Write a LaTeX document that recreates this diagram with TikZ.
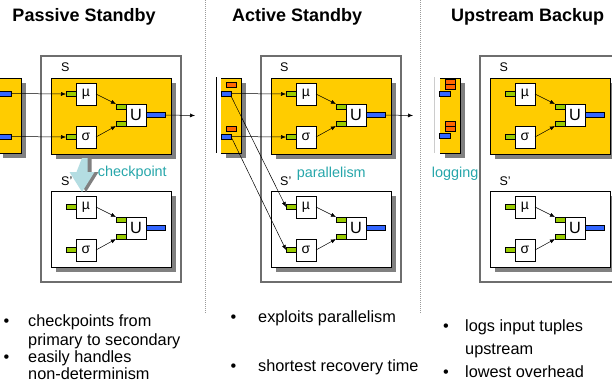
\documentclass[tikz,border=0pt]{standalone}
\usepackage{fontspec}
\setmainfont{Liberation Sans}
\usetikzlibrary{arrows.meta,positioning,calc,shadows}
\definecolor{opyellow}{RGB}{255,204,0}
\definecolor{portgreen}{RGB}{153,204,0}
\definecolor{portblue}{RGB}{51,102,255}
\definecolor{logorange}{RGB}{255,102,0}
\definecolor{noteteal}{RGB}{38,166,170}
\definecolor{ckblue}{RGB}{180,221,226}
\definecolor{shadowgray}{RGB}{128,128,128}
\definecolor{framegray}{RGB}{110,110,110}
\newcommand{\titlefont}{\fontsize{18}{21}\bfseries\selectfont}
\newcommand{\itemfont}{\fontsize{16.3}{19}\selectfont}
\tikzset{>={Latex[length=5pt,width=4pt]},
  groupbox/.style={draw, line width=0.8pt, inner sep=0, outer sep=0, minimum width=120pt, minimum height=76pt,
    drop shadow={shadow xshift=5pt, shadow yshift=-5pt, fill=shadowgray, opacity=1}},
  opbox/.style={draw, fill=white, line width=0.6pt, inner sep=0, outer sep=0, minimum width=20pt, minimum height=22pt, font=\fontsize{14}{14}\selectfont},
  inport/.style={draw, fill=portgreen, line width=0.6pt, inner sep=0, outer sep=0, minimum width=10pt, minimum height=5pt},
  outport/.style={draw, fill=portblue, line width=1pt, inner sep=0, outer sep=0, minimum width=19pt, minimum height=5pt},
  upport/.style={draw, fill=portblue, line width=0.8pt, inner sep=0, outer sep=0, minimum height=5pt},
  logbox/.style={draw, fill=logorange, line width=0.6pt, inner sep=0, outer sep=0, minimum width=10pt, minimum height=5pt},
  flow/.style={->, line width=0.5pt},
  sep/.style={framegray!70, line width=0.6pt, dash pattern=on 1pt off 1pt},
  frame/.style={framegray, line width=1.2pt},
  title/.style={font=\titlefont, inner sep=0, anchor=base west},
  item/.style={font=\itemfont, inner sep=0, anchor=base west},
  dot/.style={font=\itemfont, inner sep=0, anchor=base},
  tag/.style={font=\fontsize{12.5}{13}\selectfont, inner sep=0, anchor=base west},
  note/.style={font=\fontsize{14.4}{15}\selectfont, text=noteteal, inner sep=0, anchor=base west}}

% operator group: prefix, x, y, fill
\newcommand{\opgroup}[4]{%
  \node[groupbox, fill=#4, anchor=north west] (#1) at (#2,#3) {};
  \node[opbox, anchor=north west] (#1-mu) at ([shift={(25,5)}]#1.north west) {µ};
  \node[opbox, anchor=north west] (#1-sg) at ([shift={(25,48)}]#1.north west) {σ};
  \node[opbox, anchor=north west, font=\fontsize{16.3}{17}\selectfont] (#1-u) at ([shift={(75,26)}]#1.north west) {U};
  \node[inport, anchor=east] (#1-mu-in) at (#1-mu.west) {};
  \node[inport, anchor=east] (#1-sg-in) at (#1-sg.west) {};
  \node[inport, anchor=north east] (#1-u-in1) at (#1-u.north west) {};
  \node[inport, anchor=south east] (#1-u-in2) at (#1-u.south west) {};
  \node[outport, anchor=west] (#1-out) at (#1-u.east) {};
  \draw[flow] (#1-mu.east) -- (#1-u-in1.north west);
  \draw[flow] (#1-sg.east) -- (#1-u-in2.south west);
}

% upstream box: left, right
\newcommand{\upbox}[2]{%
  \fill[shadowgray] (#1+5,83) rectangle (#2+5,158);
  \fill[opyellow] (#1,78) rectangle (#2,153);
  \draw[line width=0.8pt] (#1,78) -- (#2,78) -- (#2,153) -- (#1,153);
}

\begin{document}
\begin{tikzpicture}[x=1pt, y=-1pt]
\useasboundingbox (0,0) rectangle (612,389);

% titles and separators
\node[title] (t-pass) at (12.3,21.7) {Passive Standby};
\node[title] (t-act) at (232,21.7) {Active Standby};
\node[title] (t-up) at (451,21.7) {Upstream Backup};
\draw[sep] (205,0) -- (205,313);
\draw[sep] (420,0) -- (420,313);

% ---- passive standby
\draw[frame] (41,56) rectangle (181,282);
\node[tag] (pa-s) at (61,71.7) {S};
\node[tag] (pa-s2) at (61,185) {S'};
\upbox{-2}{21}
\node[upport, minimum width=14pt, anchor=east] (pa-up1) at (11.7,93.5) {};
\node[upport, minimum width=14pt, anchor=east] (pa-up2) at (11.7,136.5) {};
\opgroup{pa-p}{51}{78}{opyellow}
\opgroup{pa-s}{51}{191}{white}
\coordinate (pa-end) at (195,115.5);
\draw[flow] (pa-up1.east) -- (pa-p-mu-in.west);
\draw[flow] (pa-up2.east) -- (pa-p-sg-in.west);
\draw[flow] (pa-p-out.east) -- (pa-end);
% checkpoint arrow
\coordinate (ck) at (82,158);
\fill[shadowgray] ([shift={(4,0)}]ck) -- ++(5.5,0) -- ++(0,14) -- ++(7,0) -- ++(-12.5,20) -- ++(-12.5,-20) -- ++(7,0) -- cycle;
\fill[ckblue] ([shift={(0,0)}]ck) -- ++(5.5,0) -- ++(0,14) -- ++(7,0) -- ++(-12.5,20) -- ++(-12.5,-20) -- ++(7,0) -- cycle;
\node[note] (pa-ck) at (97.7,176.7) {checkpoint};

% ---- active standby
\draw[frame] (261,56) rectangle (401,282);
\node[tag] (ac-s) at (280,71.7) {S};
\node[tag] (ac-s2) at (280,185) {S'};
\draw[line width=0.8pt] (216,77) -- (216,153);
\upbox{221}{241}
\node[logbox, anchor=north west] (ac-log1) at (226,82.7) {};
\node[logbox, anchor=north west] (ac-log2) at (226,126) {};
\node[upport, minimum width=10pt, anchor=east] (ac-up1) at (231,93.5) {};
\node[upport, minimum width=10pt, anchor=east] (ac-up2) at (231,136.5) {};
\opgroup{ac-p}{271}{78}{opyellow}
\opgroup{ac-s}{271}{191}{white}
\coordinate (ac-end) at (413,115.5);
\draw[flow] (ac-up1.east) -- (ac-p-mu-in.west);
\draw[flow] (ac-up2.east) -- (ac-p-sg-in.west);
\draw[flow] (ac-up1.south east) -- (ac-s-mu-in.west);
\draw[flow] (ac-up2.east) -- (ac-s-sg-in.west);
\draw[flow] (ac-p-out.east) -- (ac-end);
\node[note] (ac-par) at (296.7,177.3) {parallelism};

% ---- upstream backup
\draw[frame] (480,56) rectangle (625,282);
\node[tag] (ub-s) at (499.3,71.7) {S};
\node[tag] (ub-s2) at (499.3,185) {S'};
\draw[gray!40, line width=0.6pt] (434.3,77) -- (434.3,153);
\upbox{440}{460}
\node[logbox, anchor=north west] (ub-log1) at (445.7,79) {};
\node[logbox, anchor=north west] (ub-log2) at (445.7,84) {};
\node[logbox, anchor=north west] (ub-log3) at (445.7,121.7) {};
\node[logbox, anchor=north west] (ub-log4) at (445.7,126.7) {};
\node[upport, minimum width=11pt, anchor=east] (ub-up1) at (450.7,93.5) {};
\node[upport, minimum width=11pt, anchor=east] (ub-up2) at (450.7,135.8) {};
\opgroup{ub-p}{490}{78}{opyellow}
\opgroup{ub-s}{490}{191}{white}
\node[note] (ub-log) at (431.7,177.3) {logging};

% ---- bullet points
\node[dot] (pa-d1) at (6.5,326.5) {•};
\node[item] (pa-i1) at (28,326.5) {checkpoints from};
\node[item] (pa-i1b) at (28,345.5) {primary to secondary};
\node[dot] (pa-d2) at (6.5,362) {•};
\node[item] (pa-i2) at (28,362) {easily handles};
\node[item] (pa-i2b) at (28,379) {non-determinism};
\node[dot] (ac-d1) at (233.5,322.5) {•};
\node[item] (ac-i1) at (258,322.5) {exploits parallelism};
\node[dot] (ac-d2) at (233.5,371) {•};
\node[item] (ac-i2) at (258,371) {shortest recovery time};
\node[dot] (ub-d1) at (446,331) {•};
\node[item] (ub-i1) at (465,331) {logs input tuples};
\node[item] (ub-i1b) at (465,354) {upstream};
\node[dot] (ub-d2) at (446,377) {•};
\node[item] (ub-i2) at (465,377) {lowest overhead};
\end{tikzpicture}
\end{document}
